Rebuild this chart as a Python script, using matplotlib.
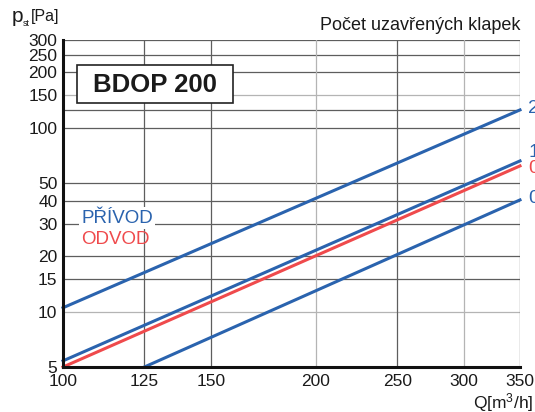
import matplotlib
matplotlib.use("Agg")
import matplotlib.pyplot as plt
from matplotlib.patches import Rectangle
from matplotlib.ticker import FixedLocator, NullLocator, FixedFormatter

plt.rcParams["font.family"] = ["Liberation Sans", "DejaVu Sans"]
plt.rcParams["mathtext.fontset"] = "custom"
plt.rcParams["mathtext.rm"] = "Liberation Sans"
plt.rcParams["mathtext.it"] = "Liberation Sans"

BLUE = "#2a63ae"
RED = "#ef4a4c"
GRID_DARK = "#5e5e5e"
GRID_LIGHT = "#b4b4b4"
W, H = 535, 412

# flow [m3/h] at line ends, pressure [Pa] at those ends
q_full = [100, 350]
q_short = [125, 350]
p_privod_2 = [10.5, 125]
p_privod_1 = [5.4, 66]
p_odvod_0 = [5.0, 62]
p_privod_0 = [5.0, 40.5]

x_ticks = [100, 125, 150, 200, 250, 300, 350]
y_ticks = [5, 10, 15, 20, 30, 40, 50, 100, 150, 200, 250, 300]
y_grid = [10, 15, 20, 30, 40, 50, 100, 125, 150, 200, 250, 300]
light_y = [10, 150]
light_x = [200, 300]

fig = plt.figure(figsize=(W / 100, H / 100), dpi=100)
ax = fig.add_axes([63 / W, 45 / H, 457 / W, 327 / H])
ax.set_xscale("log")
ax.set_yscale("log")
ax.set_xlim(100, 350)
ax.set_ylim(5, 300)

# grid
for v in y_grid:
    ax.axhline(v, color=GRID_LIGHT if v in light_y else GRID_DARK, lw=0.9, zorder=1)
for v in x_ticks[1:]:
    ax.axvline(v, color=GRID_LIGHT if v in light_x else GRID_DARK, lw=0.9, zorder=1)

ax.plot(q_full, p_privod_2, color=BLUE, lw=2.2, zorder=3, clip_on=False)
ax.plot(q_full, p_privod_1, color=BLUE, lw=2.2, zorder=3, clip_on=False)
ax.plot(q_full, p_odvod_0, color=RED, lw=2.2, zorder=4, clip_on=False)
ax.plot(q_short, p_privod_0, color=BLUE, lw=2.2, zorder=3, clip_on=False)

# end labels (number of closed dampers)
end_labels = [
    ("2", p_privod_2[-1], BLUE, 1),
    ("1", p_privod_1[-1], BLUE, 6),
    ("0", p_odvod_0[-1], RED, -2),
    ("0", p_privod_0[-1], BLUE, 1),
]
for txt, p, col, dy in end_labels:
    ax.annotate(txt, xy=(350, p), xytext=(6, dy), textcoords="offset points",
                color=col, fontsize=14, va="center", ha="left",
                annotation_clip=False)

for side in ["top", "right"]:
    ax.spines[side].set_visible(False)
for side in ["left", "bottom"]:
    ax.spines[side].set_linewidth(2.2)
    ax.spines[side].set_color("#111111")
    ax.spines[side].set_zorder(5)

ax.xaxis.set_major_locator(FixedLocator(x_ticks))
ax.xaxis.set_major_formatter(FixedFormatter([str(v) for v in x_ticks]))
ax.xaxis.set_minor_locator(NullLocator())
ax.yaxis.set_major_locator(FixedLocator(y_ticks))
ax.yaxis.set_major_formatter(FixedFormatter([str(v) for v in y_ticks]))
ax.yaxis.set_minor_locator(NullLocator())
ax.tick_params(axis="both", length=0, labelsize=12.5, colors="#1a1a1a")
ax.tick_params(axis="x", pad=5)
ax.tick_params(axis="y", pad=4)

# title box
fig.add_artist(Rectangle((77 / W, 1 - 103 / H), 156 / W, 38 / H,
                         transform=fig.transFigure, fc="white", ec="#222222",
                         lw=1.2, zorder=6))
fig.text(155 / W, 1 - 85 / H, "BDOP 200", fontsize=18.5, fontweight="bold",
         color="#1a1a1a", va="center", ha="center", zorder=7)

ax.text(0.04, 0.455, "PŘÍVOD", transform=ax.transAxes, fontsize=13.5,
        color=BLUE, va="center", ha="left", zorder=6,
        bbox=dict(boxstyle="square,pad=0.12", fc="white", ec="none"))
ax.text(0.04, 0.39, "ODVOD", transform=ax.transAxes, fontsize=13.5,
        color=RED, va="center", ha="left", zorder=6)

fig.text(12 / W, 1 - 16 / H, "p", fontsize=15, color="#1a1a1a",
         va="center", ha="left")
fig.text(23 / W, 1 - 24 / H, "st", fontsize=6.5, color="#1a1a1a",
         va="center", ha="left")
fig.text(31 / W, 1 - 17 / H, "[Pa]", fontsize=11.5, color="#1a1a1a",
         va="center", ha="left")
fig.text(521 / W, 1 - 25 / H, "Počet uzavřených klapek", fontsize=13,
         color="#1a1a1a", va="center", ha="right")
fig.text(533 / W, 1 - 403 / H, r"Q[m$^3$/h]", fontsize=12.5,
         color="#1a1a1a", va="center", ha="right")

fig.savefig("out.png", dpi=100)
